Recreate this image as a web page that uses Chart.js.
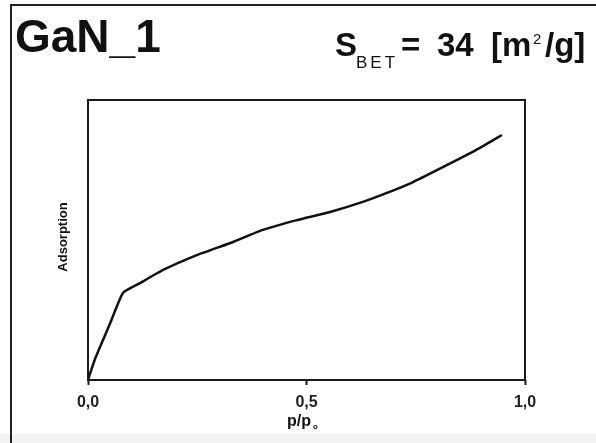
<!DOCTYPE html>
<html>
<head>
<meta charset="utf-8">
<title>GaN_1</title>
<script src="https://cdn.jsdelivr.net/npm/chart.js@4.4.1/dist/chart.umd.min.js"></script>
<style>
  html, body { margin: 0; padding: 0; background: #fff; }
  #chart { display: block; }
</style>
</head>
<body>
<canvas id="chart" width="596" height="443"></canvas>
<script>
// isotherm, relative pressure vs. amount adsorbed (arbitrary units)
var pressureRatio = [0, 0.016, 0.050, 0.080, 0.119, 0.172, 0.249, 0.332, 0.400, 0.478, 0.554, 0.629, 0.684, 0.744, 0.822, 0.897, 0.947];
var adsorbed      = [0, 7.5, 20.0, 31.1, 34.6, 39.3, 44.6, 49.3, 53.6, 57.1, 60.0, 63.6, 66.8, 70.7, 76.8, 82.9, 87.5];
var xTicks = [0, 0.5, 1.0];

var sampleName = 'GaN_1';
var surfaceArea = '34';

var points = pressureRatio.map(function(p, i) {
    return { x: p, y: adsorbed[i] };
});

var FONT = '"Liberation Sans", Arial, sans-serif';

// frame, headings, plot box and axis titles
var decorations = {
    id: 'decorations',
    beforeDraw: function(chart) {
        var ctx = chart.ctx;
        ctx.save();
        ctx.fillStyle = '#ffffff';
        ctx.fillRect(0, 0, chart.width, chart.height);
        ctx.fillStyle = '#f3f3f3';
        ctx.fillRect(0, 434, chart.width, chart.height - 434);

        // outer panel border (left and top)
        ctx.strokeStyle = '#222';
        ctx.lineWidth = 2;
        ctx.beginPath();
        ctx.moveTo(11, chart.height);
        ctx.lineTo(11, 5);
        ctx.lineTo(chart.width, 5);
        ctx.stroke();
        ctx.restore();
    },
    afterDraw: function(chart) {
        var ctx = chart.ctx;
        var area = chart.chartArea;
        ctx.save();
        ctx.fillStyle = '#111';
        ctx.textBaseline = 'alphabetic';
        ctx.textAlign = 'left';

        ctx.font = 'bold 46px ' + FONT;
        ctx.fillText(sampleName, 15, 52);

        // S_BET = 34 [m2/g]
        ctx.font = 'bold 33px ' + FONT;
        ctx.fillText('S', 335, 56);
        ctx.font = '17px ' + FONT;
        ctx.letterSpacing = '3px';
        ctx.fillText('BET', 356, 68);
        ctx.letterSpacing = '0px';
        ctx.font = 'bold 33px ' + FONT;
        ctx.fillText('=', 401, 56);
        ctx.fillText(surfaceArea, 437, 56);
        ctx.fillText('[m', 491, 56);
        ctx.font = '15px ' + FONT;
        ctx.fillText('2', 533, 44);
        ctx.font = 'bold 33px ' + FONT;
        ctx.fillText('/g]', 545, 56);

        // plot box
        ctx.strokeStyle = '#1a1a1a';
        ctx.lineWidth = 2;
        ctx.strokeRect(area.left, area.top, area.right - area.left, area.bottom - area.top);

        // x axis title p/p0
        ctx.font = 'bold 16px ' + FONT;
        ctx.fillText('p/p', 287, 426);
        ctx.font = 'bold 8px ' + FONT;
        ctx.fillText('o', 313, 429);

        // y axis title
        ctx.translate(63, 237);
        ctx.rotate(-Math.PI / 2);
        ctx.textAlign = 'center';
        ctx.textBaseline = 'middle';
        ctx.font = 'bold 13px ' + FONT;
        ctx.fillText('Adsorption', 0, 0);
        ctx.restore();
    }
};

new Chart(document.getElementById('chart'), {
    type: 'line',
    data: {
        datasets: [{
            data: points,
            borderColor: '#111',
            borderWidth: 2.5,
            pointRadius: 0,
            fill: false,
            tension: 0.15
        }]
    },
    options: {
        responsive: false,
        animation: false,
        layout: { padding: { top: 100, right: 71, left: 0, bottom: 0 } },
        plugins: {
            legend: { display: false },
            tooltip: { enabled: false }
        },
        scales: {
            x: {
                type: 'linear',
                min: 0,
                max: 1,
                afterBuildTicks: function(scale) {
                    scale.ticks = xTicks.map(function(v) { return { value: v }; });
                },
                afterFit: function(scale) { scale.height = 63; },
                grid: {
                    drawOnChartArea: false,
                    drawTicks: true,
                    tickLength: 5,
                    tickColor: '#1a1a1a',
                    tickWidth: 2
                },
                border: { display: false },
                ticks: {
                    padding: 8,
                    maxRotation: 0,
                    color: '#222',
                    font: { family: FONT, size: 16, weight: 'bold' },
                    callback: function(v) { return v.toFixed(1).replace('.', ','); }
                }
            },
            y: {
                min: 0,
                max: 100,
                afterFit: function(scale) { scale.width = 88; },
                grid: { display: false },
                border: { display: false },
                ticks: { display: false }
            }
        }
    },
    plugins: [decorations]
});
</script>
</body>
</html>
